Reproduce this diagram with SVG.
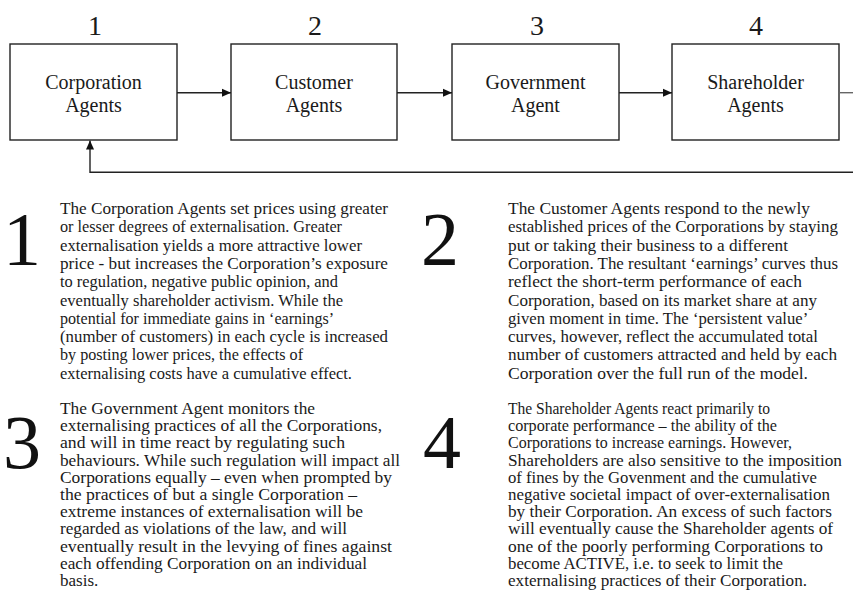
<svg xmlns="http://www.w3.org/2000/svg" width="853" height="603" viewBox="0 0 853 603">
<defs>
<style>
.box{fill:#fff;stroke:#222;stroke-width:1.4}
.lbl{font-family:"Liberation Serif",serif;font-size:20px;fill:#1a1a1a;text-anchor:middle}
.num{font-family:"Liberation Serif",serif;font-size:28px;fill:#1a1a1a;text-anchor:middle}
.big{font-family:"Liberation Serif",serif;font-size:76px;fill:#111}
.p{font-family:"Liberation Serif",serif;font-size:17px;fill:#1a1a1a}
.ln{fill:none;stroke:#222;stroke-width:1.4}
</style>
<marker id="ah" viewBox="0 0 10 10" refX="10" refY="5" markerWidth="9" markerHeight="9" markerUnits="userSpaceOnUse" orient="auto">
<path d="M0,0.5 L10,5 L0,9.5 z" fill="#111"/>
</marker>
</defs>
<rect width="853" height="603" fill="#fff"/>

<g id="node1">
<text class="num" x="95" y="35">1</text>
<rect class="box" x="10" y="44" width="167" height="96"/>
<text class="lbl" x="93.5" y="89">Corporation</text>
<text class="lbl" x="93.5" y="112">Agents</text>
</g>
<g id="node2">
<text class="num" x="315" y="35">2</text>
<rect class="box" x="231" y="44" width="166" height="96"/>
<text class="lbl" x="314" y="89">Customer</text>
<text class="lbl" x="314" y="112">Agents</text>
</g>
<g id="node3">
<text class="num" x="537" y="35">3</text>
<rect class="box" x="452" y="44" width="167" height="96"/>
<text class="lbl" x="535.5" y="89">Government</text>
<text class="lbl" x="535.5" y="112">Agent</text>
</g>
<g id="node4">
<text class="num" x="756" y="35">4</text>
<rect class="box" x="672" y="44" width="167" height="96"/>
<text class="lbl" x="755.5" y="89">Shareholder</text>
<text class="lbl" x="755.5" y="112">Agents</text>
</g>

<g id="connectors">
<line class="ln" x1="177" y1="92.7" x2="231" y2="92.7" marker-end="url(#ah)"/>
<line class="ln" x1="397" y1="92.7" x2="452" y2="92.7" marker-end="url(#ah)"/>
<line class="ln" x1="619" y1="92.7" x2="672" y2="92.7" marker-end="url(#ah)"/>
<line x1="839" y1="92.7" x2="853" y2="92.7" stroke="#666" stroke-width="1.4"/>
<polyline class="ln" points="853,172.3 90,172.3 90,140.5" marker-end="url(#ah)"/>
</g>

<g id="desc1">
<text class="big" x="3" y="265">1</text>
<text class="p">
<tspan x="60" y="214" textLength="328" lengthAdjust="spacingAndGlyphs">The Corporation Agents set prices using greater</tspan>
<tspan x="60" y="232.3" textLength="282" lengthAdjust="spacingAndGlyphs">or lesser degrees of externalisation. Greater</tspan>
<tspan x="60" y="250.6" textLength="302" lengthAdjust="spacingAndGlyphs">externalisation yields a more attractive lower</tspan>
<tspan x="60" y="268.9" textLength="328" lengthAdjust="spacingAndGlyphs">price - but increases the Corporation’s exposure</tspan>
<tspan x="60" y="287.2" textLength="278" lengthAdjust="spacingAndGlyphs">to regulation, negative public opinion, and</tspan>
<tspan x="60" y="305.5" textLength="283" lengthAdjust="spacingAndGlyphs">eventually shareholder activism. While the</tspan>
<tspan x="60" y="323.8" textLength="273" lengthAdjust="spacingAndGlyphs">potential for immediate gains in ‘earnings’</tspan>
<tspan x="60" y="342.1" textLength="328" lengthAdjust="spacingAndGlyphs">(number of customers) in each cycle is increased</tspan>
<tspan x="60" y="360.4" textLength="243" lengthAdjust="spacingAndGlyphs">by posting lower prices, the effects of</tspan>
<tspan x="60" y="378.7" textLength="292" lengthAdjust="spacingAndGlyphs">externalising costs have a cumulative effect.</tspan>
</text>
</g>

<g id="desc2">
<text class="big" x="421" y="265">2</text>
<text class="p">
<tspan x="508" y="214" textLength="302" lengthAdjust="spacingAndGlyphs">The Customer Agents respond to the newly</tspan>
<tspan x="508" y="232.3" textLength="330" lengthAdjust="spacingAndGlyphs">established prices of the Corporations by staying</tspan>
<tspan x="508" y="250.6" textLength="280" lengthAdjust="spacingAndGlyphs">put or taking their business to a different</tspan>
<tspan x="508" y="268.9" textLength="330" lengthAdjust="spacingAndGlyphs">Corporation. The resultant ‘earnings’ curves thus</tspan>
<tspan x="508" y="287.2" textLength="294" lengthAdjust="spacingAndGlyphs">reflect the short-term performance of each</tspan>
<tspan x="508" y="305.5" textLength="309" lengthAdjust="spacingAndGlyphs">Corporation, based on its market share at any</tspan>
<tspan x="508" y="323.8" textLength="299" lengthAdjust="spacingAndGlyphs">given moment in time. The ‘persistent value’</tspan>
<tspan x="508" y="342.1" textLength="310" lengthAdjust="spacingAndGlyphs">curves, however, reflect the accumulated total</tspan>
<tspan x="508" y="360.4" textLength="329" lengthAdjust="spacingAndGlyphs">number of customers attracted and held by each</tspan>
<tspan x="508" y="378.7" textLength="300" lengthAdjust="spacingAndGlyphs">Corporation over the full run of the model.</tspan>
</text>
</g>

<g id="desc3">
<text class="big" x="3" y="468">3</text>
<text class="p">
<tspan x="60" y="414" textLength="255" lengthAdjust="spacingAndGlyphs">The Government Agent monitors the</tspan>
<tspan x="60" y="431.2" textLength="322" lengthAdjust="spacingAndGlyphs">externalising practices of all the Corporations,</tspan>
<tspan x="60" y="448.4" textLength="285" lengthAdjust="spacingAndGlyphs">and will in time react by regulating such</tspan>
<tspan x="60" y="465.6" textLength="340" lengthAdjust="spacingAndGlyphs">behaviours. While such regulation will impact all</tspan>
<tspan x="60" y="482.8" textLength="332" lengthAdjust="spacingAndGlyphs">Corporations equally – even when prompted by</tspan>
<tspan x="60" y="500" textLength="297" lengthAdjust="spacingAndGlyphs">the practices of but a single Corporation –</tspan>
<tspan x="60" y="517.2" textLength="303" lengthAdjust="spacingAndGlyphs">extreme instances of externalisation will be</tspan>
<tspan x="60" y="534.4" textLength="287" lengthAdjust="spacingAndGlyphs">regarded as violations of the law, and will</tspan>
<tspan x="60" y="551.6" textLength="332" lengthAdjust="spacingAndGlyphs">eventually result in the levying of fines against</tspan>
<tspan x="60" y="568.8" textLength="307" lengthAdjust="spacingAndGlyphs">each offending Corporation on an individual</tspan>
<tspan x="60" y="586">basis.</tspan>
</text>
</g>

<g id="desc4">
<text class="big" x="423" y="468">4</text>
<text class="p">
<tspan x="508" y="414" textLength="262" lengthAdjust="spacingAndGlyphs">The Shareholder Agents react primarily to</tspan>
<tspan x="508" y="431.2" textLength="269" lengthAdjust="spacingAndGlyphs">corporate performance – the ability of the</tspan>
<tspan x="508" y="448.4" textLength="284" lengthAdjust="spacingAndGlyphs">Corporations to increase earnings. However,</tspan>
<tspan x="508" y="465.6" textLength="334" lengthAdjust="spacingAndGlyphs">Shareholders are also sensitive to the imposition</tspan>
<tspan x="508" y="482.8" textLength="309" lengthAdjust="spacingAndGlyphs">of fines by the Govenment and the cumulative</tspan>
<tspan x="508" y="500" textLength="322" lengthAdjust="spacingAndGlyphs">negative societal impact of over-externalisation</tspan>
<tspan x="508" y="517.2" textLength="324" lengthAdjust="spacingAndGlyphs">by their Corporation. An excess of such factors</tspan>
<tspan x="508" y="534.4" textLength="325" lengthAdjust="spacingAndGlyphs">will eventually cause the Shareholder agents of</tspan>
<tspan x="508" y="551.6" textLength="315" lengthAdjust="spacingAndGlyphs">one of the poorly performing Corporations to</tspan>
<tspan x="508" y="568.8" textLength="275" lengthAdjust="spacingAndGlyphs">become ACTIVE, i.e. to seek to limit the</tspan>
<tspan x="508" y="586" textLength="299" lengthAdjust="spacingAndGlyphs">externalising practices of their Corporation.</tspan>
</text>
</g>
</svg>
